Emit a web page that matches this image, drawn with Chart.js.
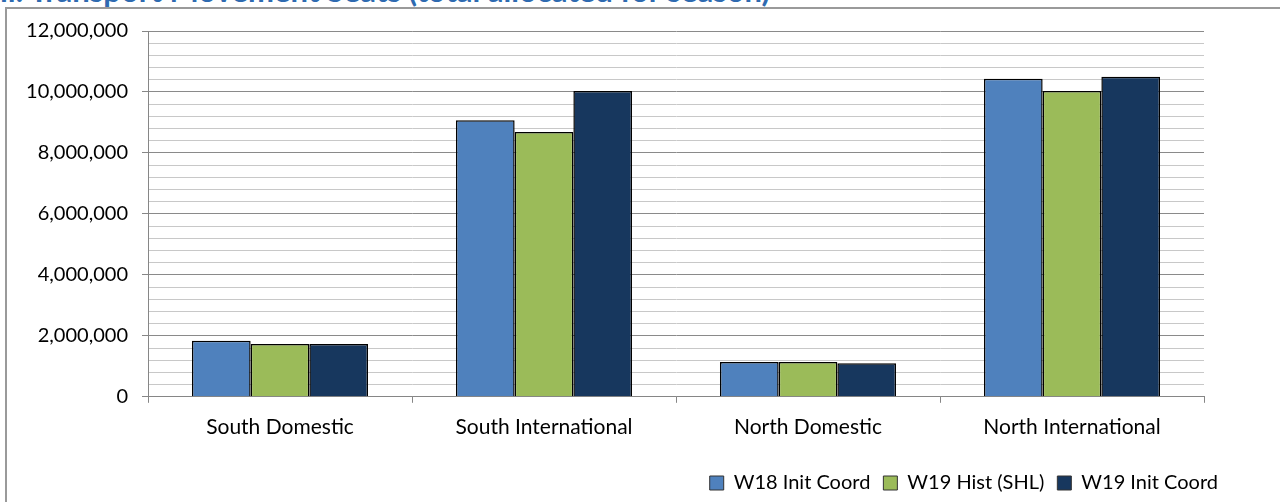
<!DOCTYPE html>
<html lang="en">
<head>
    <meta charset="UTF-8">
    <script src="https://cdn.jsdelivr.net/npm/chart.js"></script>
    <title>Transport Movement Seats</title>
    <style>
        body { margin: 0; width: 1280px; height: 502px; overflow: hidden; background: #fff; position: relative; font-family: Lato, sans-serif; }
        #title { position: absolute; left: 0px; top: -28px; font-size: 31px; line-height: 37px; font-weight: bold; color: #2E6AB0; white-space: nowrap; }
        #frame { position: absolute; left: 5px; top: 7px; width: 1300px; height: 520px; border: 2px solid #9a9a9a; }
        #wrap { position: absolute; left: 7px; top: 5px; width: 1273px; height: 498px; }
    </style>
</head>
<body>
    <div id="title">ii. Transport Movement Seats (total allocated for season)</div>
    <div id="frame"></div>
    <div id="wrap"><canvas id="seatsChart"></canvas></div>

    <script>
        const categories = ['South Domestic', 'South International', 'North Domestic', 'North International'];
        const seriesNames = ['W18 Init Coord', 'W19 Hist (SHL)', 'W19 Init Coord'];
        const w18Init = [1840000, 9070000, 1140000, 10430000];
        const w19Hist = [1730000, 8690000, 1140000, 10030000];
        const w19Init = [1730000, 10030000, 1100000, 10500000];
        const seriesColors = ['#4F81BD', '#9BBB59', '#17375E'];

        const ctx = document.getElementById('seatsChart').getContext('2d');
        new Chart(ctx, {
            type: 'bar',
            data: {
                labels: categories,
                datasets: [w18Init, w19Hist, w19Init].map((vals, i) => ({
                    label: seriesNames[i],
                    data: vals,
                    backgroundColor: seriesColors[i],
                    borderColor: '#000',
                    borderWidth: 1.5,
                    categoryPercentage: 0.667,
                    barPercentage: 1
                }))
            },
            options: {
                responsive: true,
                maintainAspectRatio: false,
                animation: false,
                layout: { padding: { top: 8, left: 0, right: 49, bottom: 0 } },
                plugins: {
                    title: { display: false },
                    tooltip: { enabled: false },
                    legend: {
                        position: 'bottom',
                        align: 'end',
                        labels: {
                            color: '#000',
                            font: { family: 'Lato', size: 20 },
                            boxWidth: 14,
                            boxHeight: 14,
                            padding: 13,
                            generateLabels: chart => chart.data.datasets.map((ds, i) => ({
                                text: ds.label,
                                fillStyle: ds.backgroundColor,
                                strokeStyle: '#333',
                                lineWidth: 1,
                                datasetIndex: i
                            }))
                        }
                    }
                },
                scales: {
                    x: {
                        afterFit: scale => { scale.height += 8; },
                        grid: { drawOnChartArea: false, offset: true, tickLength: 6, color: '#868686' },
                        border: { color: '#868686', width: 1 },
                        ticks: { color: '#000', font: { family: 'Lato', size: 21 }, padding: 12 }
                    },
                    y: {
                        min: 0,
                        max: 12000000,
                        afterFit: scale => { scale.width = 141; },
                        ticks: {
                            stepSize: 400000,
                            autoSkip: false,
                            color: '#000',
                            font: { family: 'Lato', size: 20 },
                            padding: 14,
                            callback: v => (v % 2000000 === 0 ? v.toLocaleString('en-US') : '')
                        },
                        grid: {
                            tickLength: 6,
                            color: c => (c.tick && c.tick.value % 2000000 === 0 ? '#8a8a8a' : '#c8c8c8'),
                            tickColor: c => (c.tick && c.tick.value % 2000000 === 0 ? '#868686' : 'rgba(0,0,0,0)')
                        },
                        border: { color: '#868686', width: 1 }
                    },
                    y2: {
                        position: 'right',
                        display: true,
                        afterFit: scale => { scale.width = 27; },
                        ticks: { display: false },
                        grid: { display: false },
                        border: { display: false }
                    }
                }
            }
        });
    </script>
</body>
</html>
